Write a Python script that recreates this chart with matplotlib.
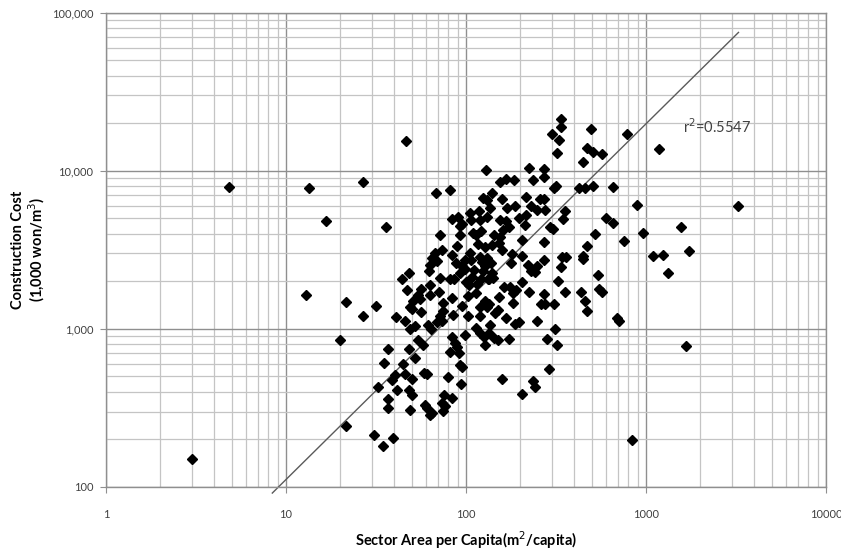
import numpy as np
import matplotlib
matplotlib.use('Agg')
import matplotlib.pyplot as plt
from matplotlib.ticker import LogLocator, FixedLocator, FixedFormatter, NullFormatter

plt.rcParams['font.family'] = ['Lato', 'DejaVu Sans']

# Sector area per capita (m2/capita) and construction cost (1,000 won/m3)
area = [
    3.0, 4.8, 13.5, 26.7, 16.8, 36, 12.9, 21.7, 26.8, 31.6, 41, 20, 36.7, 35, 40.3, 38.7,
    41.6, 32.6, 37, 37, 21.7, 31, 39.4, 34.4, 46.4,
    130, 223, 273, 155, 168, 185, 237, 271, 68, 82, 140, 124, 131, 159, 217, 258, 273,
    136, 170, 188, 229, 247, 276, 106, 118, 107, 120, 131, 155, 167, 196, 217, 84, 90,
    95, 93, 72, 93, 110, 121, 114, 143, 155, 161, 173, 212, 74, 89, 105, 117, 128, 140,
    152, 205, 271, 67, 65, 69, 63, 84, 88, 95, 99, 107, 120, 123, 131, 138, 111, 99, 93,
    108, 127, 124, 133, 140, 180, 159, 177, 206, 221, 229, 247, 243, 271, 48, 44, 62, 72,
    82, 86, 100, 104, 115, 122, 134, 142, 63, 56.5, 47, 54, 63, 71, 51, 55.5, 75, 84, 95,
    103, 114, 127, 134, 152, 163, 176, 182, 191, 206, 223, 183, 260, 276, 273, 310, 49,
    50, 56.5, 46, 49, 52, 61.5, 64, 69, 72, 75, 85, 74, 103, 119, 120, 131, 136, 150, 146,
    166, 188, 196, 247, 114, 120, 126, 134, 143, 150, 173, 127, 99, 84, 86.5, 89, 81.5,
    91, 48, 54, 58, 44.5, 52, 58.4, 60.5, 46, 50, 93, 95, 80, 94, 48, 50, 75.5, 84, 74,
    77, 75, 59.5, 60.5, 63, 65, 49, 159, 235, 241, 206, 288, 283,
    336, 336, 299, 327, 322, 493, 787, 472, 506, 570, 449, 1187, 308, 316, 423, 456, 510,
    653, 887, 3270, 356, 345, 293, 306, 600, 653, 523, 468, 755, 958, 1559, 1726, 1098,
    1248, 1325, 445, 448, 341, 359, 338, 325, 356, 437, 460, 472, 541, 546, 570, 693, 705,
    313, 322, 1668, 833,
]
cost = [
    150, 7900, 7800, 8500, 4800, 4400, 1650, 1480, 1210, 1400, 1190, 850, 750, 610, 510, 475,
    410, 430, 360, 315, 243, 213, 205, 182, 15500,
    10100, 10400, 10300, 8440, 8860, 8690, 8770, 9120, 7220, 7580, 7290, 6710, 6550, 6620,
    6810, 6620, 6620, 5800, 5800, 5950, 5950, 5660, 5660, 5390, 5530, 4900, 4900, 5090,
    4900, 4780, 5010, 5270, 4990, 5090, 4620, 4490, 3950, 3910, 4070, 4190, 3930, 3930,
    3840, 4230, 4440, 4530, 3160, 3350, 3010, 3450, 3320, 3400, 3480, 3660, 3520, 3010,
    2790, 2670, 2530, 2940, 2630, 2500, 2710, 2730, 2840, 2650, 2790, 2600, 2360, 2410,
    2250, 2140, 2500, 2340, 2080, 2270, 2980, 3160, 2600, 2900, 2530, 2340, 2500, 2290,
    2710, 2270, 2060, 2340, 2090, 2080, 2080, 1990, 1890, 1910, 2060, 2060, 2100, 1890,
    1800, 1760, 1650, 1630, 1720, 1510, 1540, 1450, 1560, 1400, 1620, 1680, 1510, 1430,
    1590, 1850, 1850, 1680, 1760, 1980, 1700, 1450, 1440, 1440, 1660, 1440, 1385, 1330,
    1270, 1120, 996, 1045, 1060, 1005, 1110, 1200, 1305, 1230, 1130, 1210, 1370, 1210,
    1385, 1060, 1320, 1260, 1170, 1075, 1110, 1115, 1015, 937, 886, 937, 878, 853, 861,
    788, 917, 886, 810, 765, 715, 709, 751, 853, 788, 600, 656, 529, 518, 515, 484, 594,
    577, 498, 447, 408, 383, 383, 366, 338, 326, 301, 332, 315, 287, 295, 307, 484, 467,
    428, 388, 560, 861,
    21200, 18900, 17100, 15600, 12900, 18300, 17000, 13900, 13100, 12800, 11400, 13800,
    7770, 8030, 7770, 7770, 7960, 7880, 6120, 6000, 5530, 4940, 4440, 4270, 5020, 4660,
    3990, 3350, 3620, 4030, 4440, 3130, 2900, 2940, 2250, 2900, 2780, 2870, 2870, 2480,
    2020, 1700, 1710, 1500, 1290, 2190, 1780, 1710, 1170, 1120, 1005, 796, 780, 198,
]

# power trendline y = c * x^b as drawn in the chart
trend_c = 8.35
trend_b = 1.125
trend_x = [8.4, 3270]
r2_text = 'r$^2$=0.5547'

x_ticks = [1, 10, 100, 1000, 10000]
x_labels = ['1', '10', '100', '1000', '10000']
y_ticks = [100, 1000, 10000, 100000]
y_labels = ['100', '1,000', '10,000', '100,000']

fig = plt.figure(figsize=(8.41, 5.54), dpi=100)
ax = fig.add_axes([0.126, 0.121, 0.856, 0.856])

ax.set_xscale('log')
ax.set_yscale('log')
ax.set_xlim(1, 10000)
ax.set_ylim(100, 100000)

ax.xaxis.set_major_locator(FixedLocator(x_ticks))
ax.xaxis.set_major_formatter(FixedFormatter(x_labels))
ax.yaxis.set_major_locator(FixedLocator(y_ticks))
ax.yaxis.set_major_formatter(FixedFormatter(y_labels))
ax.xaxis.set_minor_locator(LogLocator(base=10, subs=np.arange(2, 10), numticks=20))
ax.yaxis.set_minor_locator(LogLocator(base=10, subs=np.arange(2, 10), numticks=20))
ax.xaxis.set_minor_formatter(NullFormatter())
ax.yaxis.set_minor_formatter(NullFormatter())

ax.grid(which='major', color='#8f8f8f', lw=1.0)
ax.grid(which='minor', color='#c4c4c4', lw=0.9)
ax.set_axisbelow(True)

ax.tick_params(which='major', length=4, color='#8f8f8f', labelsize=8, labelcolor='#404040')
ax.tick_params(axis='x', which='major', pad=12)
ax.tick_params(axis='y', which='major', pad=5)
ax.tick_params(which='minor', length=0)
for sp in ax.spines.values():
    sp.set_color('#8f8f8f')
    sp.set_linewidth(1.0)

ax.plot(area, cost, linestyle='none', marker='D', markersize=5.6, color='black', zorder=3)

tx = np.array(trend_x)
ax.plot(tx, trend_c * tx ** trend_b, color='#5a5a5a', lw=1.0, clip_on=False, zorder=2)

ax.text(1600, 19000, r2_text, fontsize=10.5, color='#404040', va='center', ha='left')

ax.set_xlabel('Sector Area per Capita(m$^2$/capita)', fontsize=10.5, fontweight='bold', va='center')
ax.xaxis.set_label_coords(0.5, -0.112)
ax.set_ylabel('Construction Cost\n(1,000 won/m$^3$)', fontsize=10.5, fontweight='bold', va='center',
              linespacing=1.1)
ax.yaxis.set_label_coords(-0.107, 0.5)

fig.savefig('out.png', dpi=100)
